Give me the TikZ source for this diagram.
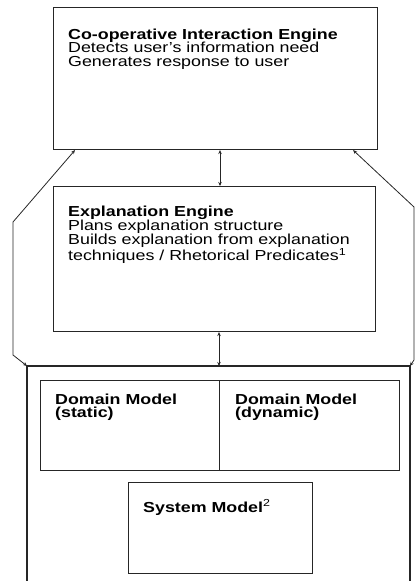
\documentclass[tikz,border=0pt]{standalone}
\usepackage{fontspec}
\setmainfont{Liberation Sans}[FakeStretch=1.23]
\usetikzlibrary{arrows.meta}
\begin{document}
\begin{tikzpicture}[x=1pt,y=-1pt,
  box/.style={draw=black!85,line width=1.1pt,inner sep=0pt,anchor=north west},
  txt/.style={anchor=base west,inner sep=0pt,align=left,font=\fontsize{14.5}{13.8}\selectfont},
  conn/.style={draw=black!85,line width=0.8pt,{Stealth[length=4pt,width=3.5pt]}-{Stealth[length=4pt,width=3.5pt]}}]
\useasboundingbox (0,0) rectangle (415,581);
% boxes
\node[box,minimum width=324pt,minimum height=142pt] (cie) at (53,7) {};
\node[box,minimum width=322pt,minimum height=145pt] (ee) at (53,186) {};
\node[box,minimum width=179pt,minimum height=90pt] (dms) at (40,380) {};
\node[box,minimum width=180pt,minimum height=90pt] (dmd) at (219,380) {};
\node[box,minimum width=184pt,minimum height=91pt] (sm) at (128,482) {};
% outer (open-bottom) box
\coordinate (obl) at (27,581);
\coordinate (otl) at (27,366);
\coordinate (otr) at (410,366);
\coordinate (obr) at (410,581);
\draw[black!85,line width=1.1pt] (obl) -- (otl) -- (otr) -- (obr);
% texts (anchored at the baseline of their last line)
\node[txt] (t1) at (68,66.6) {\textbf{Co-operative Interaction Engine}\\Detects user's information need\\Generates response to user};
\node[txt] (t2) at (68,260.4) {\textbf{Explanation Engine}\\Plans explanation structure\\Builds explanation from explanation\\techniques / Rhetorical Predicates\textsuperscript{1}};
\node[txt] (t3) at (55,417.8) {\textbf{Domain Model}\\\textbf{(static)}};
\node[txt] (t4) at (235,417.8) {\textbf{Domain Model}\\\textbf{(dynamic)}};
\node[txt] (t5) at (143,512) {\textbf{System Model}\textsuperscript{2}};
% connectors
\coordinate (l1) at (13,222);
\coordinate (l2) at (13,355);
\coordinate (r1) at (414,207);
\coordinate (r2) at (414,360);
\draw[conn] ([xshift=22pt]cie.south west) -- (l1) -- (l2) -- (otl);
\draw[conn] ([xshift=-25pt]cie.south east) -- (r1) -- (r2) -- (otr);
\draw[conn] (cie.south -| 220,0) -- (ee.north -| 220,0);
\draw[conn] (ee.south -| 219,0) -- (otl -| 219,0);
\end{tikzpicture}
\end{document}
